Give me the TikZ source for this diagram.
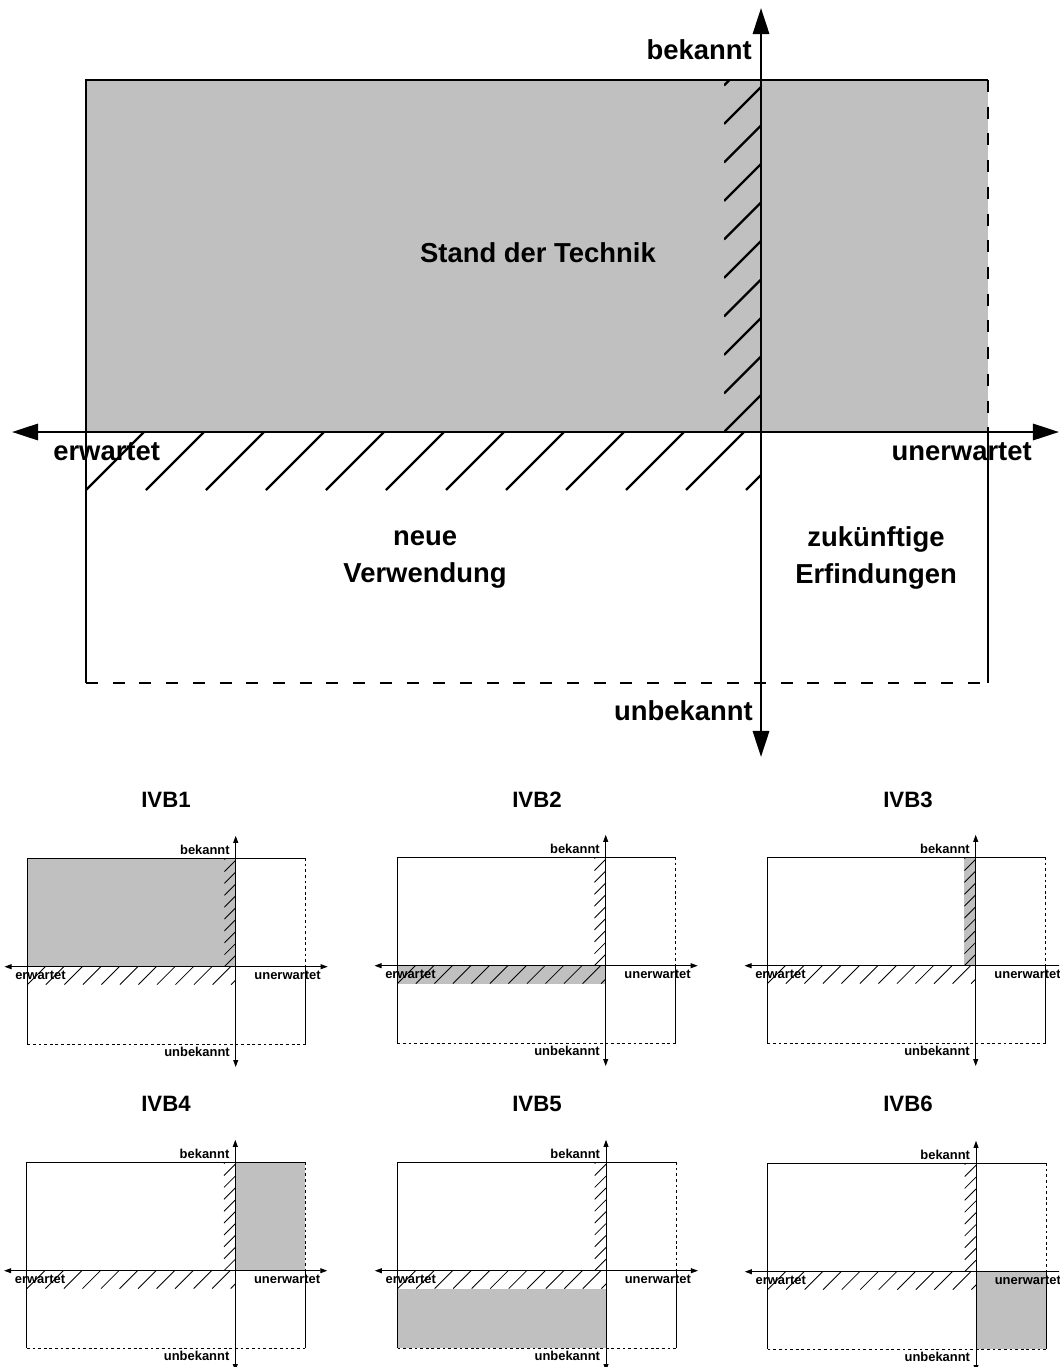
\documentclass[tikz,border=0pt]{standalone}
\usepackage{fontspec}
\setmainfont{Liberation Sans}
\usetikzlibrary{arrows.meta}
\definecolor{techgray}{RGB}{192,192,192}
\tikzset{
  kind1/.style={
    qframe/.style={line width=1.9pt},
    qhatch/.style={line width=1.7pt},
    qdash/.style={line width=1.9pt, dash pattern=on 8.5pt off 10.5pt},
    qaxis/.style={line width=1.9pt, {Triangle[length=18.5pt,width=11.5pt]}-{Triangle[length=18.5pt,width=11.5pt]}},
    qlab/.style={font=\fontsize{19.5}{23}\selectfont\bfseries, inner sep=0pt}},
  kind0/.style={
    qframe/.style={line width=0.65pt},
    qhatch/.style={line width=0.6pt},
    qdash/.style={line width=0.65pt, dash pattern=on 2pt off 2pt},
    qaxis/.style={line width=0.65pt, {Triangle[length=5pt,width=3.5pt]}-{Triangle[length=5pt,width=3.5pt]}},
    qlab/.style={font=\fontsize{9.2}{11}\selectfont\bfseries, inner sep=0pt}},
  qfill/.style={fill=techgray},
  bigtext/.style={font=\fontsize{19.5}{23}\selectfont\bfseries, inner sep=0pt, anchor=base},
  titletext/.style={font=\fontsize{15.8}{19}\selectfont\bfseries, inner sep=0pt, anchor=base}
}
% #1,#2 origin, #3 scale, #4 kind (1 main / 0 small), #5 fill code, #6 name tag
\newcommand\quadrant[6]{%
\begin{scope}[shift={(#1,#2)},scale=#3,kind#4]
  #5
  \begin{scope}
    \clip (-675,0) rectangle (0,58);
    \foreach \k in {0,...,11} \draw[qhatch] (-675+60*\k,58) -- ++(58,-58);
  \end{scope}
  \begin{scope}
    \clip (-37,-352) rectangle (0,0);
    \foreach \k in {-1,...,8} \draw[qhatch] (0,-345+38.5*\k) -- ++(-37,37);
  \end{scope}
  \draw[qframe] (227,-352) -- (-675,-352) -- (-675,251);
  \draw[qframe] (227,0) -- (227,251);
  \draw[qdash] (227,-352) -- (227,0);
  \draw[qdash] (-675,251) -- (227,251);
  \coordinate (L#6) at (-749,0);
  \coordinate (R#6) at (298,0);
  \coordinate (T#6) at (0,-424);
  \coordinate (B#6) at (0,325);
  \draw[qaxis] (L#6) -- (R#6);
  \draw[qaxis] (B#6) -- (T#6);
  \ifnum#4=1
    \node[qlab,anchor=base east] (bek#6) at (-9,-372) {bekannt};
    \node[qlab,anchor=base west] (erw#6) at (-708,28) {erwartet};
    \node[qlab,anchor=base east] (unerw#6) at (271,28) {unerwartet};
    \node[qlab,anchor=base east] (unbek#6) at (-8,288) {unbekannt};
  \else
    \node[qlab,anchor=base east] (bek#6) at (-18.5,-362) {bekannt};
    \node[qlab,anchor=base west] (erw#6) at (-715,40) {erwartet};
    \node[qlab,anchor=base east] (unerw#6) at (276,40) {unerwartet};
    \node[qlab,anchor=base east] (unbek#6) at (-18.5,291) {unbekannt};
  \fi
\end{scope}}
\begin{document}
\begin{tikzpicture}[x=0.025cm,y=-0.025cm]
\useasboundingbox (0,0) rectangle (1059,1367);
\clip (0,0) rectangle (1059,1367);
% main diagram
\quadrant{761}{432}{1}{1}{\fill[qfill] (-675,-352) rectangle (227,0);}{M}
\node[bigtext] (sdt) at (538,262) {Stand der Technik};
\node[bigtext] (neue) at (425,545) {neue};
\node[bigtext] (verw) at (425,582) {Verwendung};
\node[bigtext] (zuk) at (876,546) {zukünftige};
\node[bigtext] (erf) at (876,583) {Erfindungen};
% small diagrams
\node[titletext] (t1) at (166,807) {IVB1};
\node[titletext] (t2) at (537,807) {IVB2};
\node[titletext] (t3) at (908,807) {IVB3};
\node[titletext] (t4) at (166,1111) {IVB4};
\node[titletext] (t5) at (537,1111) {IVB5};
\node[titletext] (t6) at (908,1111) {IVB6};
\quadrant{235.7}{966.7}{0.3087}{0}{\fill[qfill] (-675,-352) rectangle (0,0);}{A}
\quadrant{605.7}{965.7}{0.3087}{0}{\fill[qfill] (-675,0) rectangle (0,58);}{B}
\quadrant{975.7}{965.7}{0.3087}{0}{\fill[qfill] (-37,-352) rectangle (0,0);}{C}
\quadrant{235.3}{1270.7}{0.3087}{0}{\fill[qfill] (0,-352) rectangle (227,0);}{D}
\quadrant{606}{1270.7}{0.3087}{0}{\fill[qfill] (-675,58) rectangle (0,251);}{E}
\quadrant{976}{1271.7}{0.3087}{0}{\fill[qfill] (0,0) rectangle (227,251);}{F}
\end{tikzpicture}
\end{document}
